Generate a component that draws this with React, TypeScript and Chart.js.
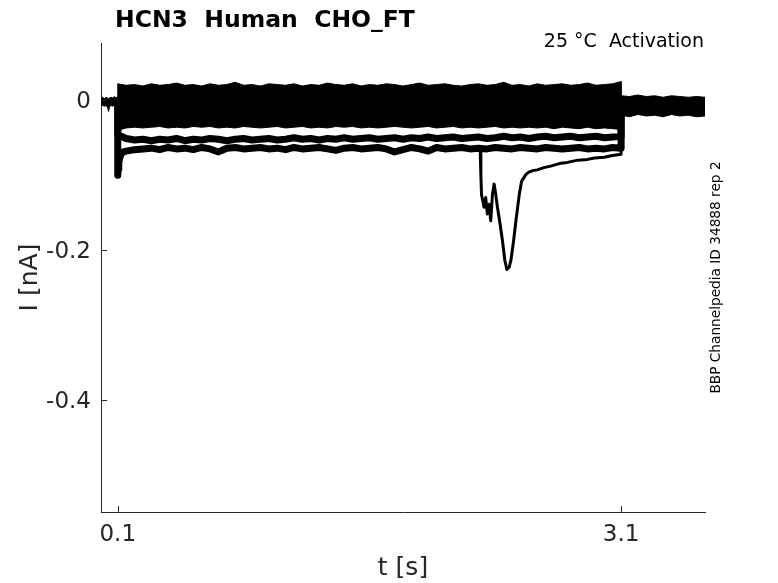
import React, { useEffect, useRef } from 'react';
import { Chart, registerables } from 'chart.js';

Chart.register(...registerables);

// ---- texts ----
const titleText = 'HCN3  Human  CHO_FT';
const conditionText = '25 °C  Activation';
const sideText = 'BBP Channelpedia ID 34888 rep 2';
const xTitle = 't [s]';
const yTitle = 'I [nA]';

// ---- ticks ----
const xTickValues = [0.1, 3.1];
const xTickLabels = ['0.1', '3.1'];
const yTickValues = [-0.4, -0.2, 0];
const yTickLabels = ['-0.4', '-0.2', '0'];

// ---- holding period before the step (s, nA) ----
const preTime = [0, 0.01, 0.02, 0.03, 0.04, 0.045, 0.05, 0.06, 0.07, 0.08, 0.09, 0.1];
const preUpper = [0.003, 0.004, 0.002, 0.004, 0.003, 0.002, 0.003, 0.004, 0.003, 0.005, 0.003, 0.004];
const preLower = [-0.006, -0.007, -0.008, -0.007, -0.010, -0.015, -0.009, -0.007, -0.008, -0.006, -0.007, -0.008];

// ---- step period ----
const pulseTime = [
  0.1, 0.15, 0.2, 0.25, 0.3, 0.35, 0.4, 0.45, 0.5, 0.55,
  0.6, 0.65, 0.7, 0.75, 0.8, 0.85, 0.9, 0.95, 1.0, 1.05,
  1.1, 1.15, 1.2, 1.25, 1.3, 1.35, 1.4, 1.45, 1.5, 1.55,
  1.6, 1.65, 1.7, 1.75, 1.8, 1.85, 1.9, 1.95, 2.0, 2.05,
  2.1, 2.15, 2.2, 2.25, 2.3, 2.35, 2.4, 2.45, 2.5, 2.55,
  2.6, 2.65, 2.7, 2.75, 2.8, 2.85, 2.9, 2.95, 3.0, 3.05,
  3.1,
];
// envelope of the dense bundle of sweeps
const bandUpper = [
  0.022, 0.020, 0.021, 0.019, 0.022, 0.020, 0.021, 0.023, 0.020, 0.021,
  0.019, 0.022, 0.020, 0.021, 0.024, 0.020, 0.021, 0.019, 0.022, 0.021,
  0.020, 0.022, 0.019, 0.021, 0.020, 0.023, 0.021, 0.020, 0.022, 0.019,
  0.021, 0.020, 0.022, 0.021, 0.019, 0.021, 0.023, 0.020, 0.021, 0.022,
  0.020, 0.019, 0.021, 0.022, 0.020, 0.021, 0.024, 0.020, 0.021, 0.019,
  0.022, 0.020, 0.021, 0.022, 0.020, 0.021, 0.023, 0.020, 0.021, 0.022,
  0.025,
];
const bandLower = [
  -0.040, -0.037, -0.036, -0.037, -0.036, -0.035, -0.037, -0.036, -0.037, -0.035,
  -0.036, -0.035, -0.037, -0.036, -0.037, -0.035, -0.036, -0.037, -0.036, -0.035,
  -0.037, -0.036, -0.035, -0.037, -0.036, -0.037, -0.035, -0.036, -0.035, -0.037,
  -0.036, -0.037, -0.036, -0.035, -0.036, -0.037, -0.036, -0.035, -0.037, -0.036,
  -0.035, -0.037, -0.036, -0.037, -0.036, -0.035, -0.037, -0.036, -0.037, -0.036,
  -0.037, -0.036, -0.038, -0.036, -0.037, -0.038, -0.036, -0.038, -0.037, -0.038,
  -0.039,
];
// sweep just below the bundle
const traceA = [
  -0.046, -0.051, -0.053, -0.052, -0.054, -0.052, -0.053, -0.051, -0.054, -0.052,
  -0.053, -0.051, -0.052, -0.054, -0.052, -0.051, -0.053, -0.052, -0.051, -0.053,
  -0.052, -0.050, -0.052, -0.051, -0.053, -0.051, -0.052, -0.050, -0.052, -0.051,
  -0.050, -0.052, -0.051, -0.050, -0.052, -0.050, -0.051, -0.049, -0.051, -0.050,
  -0.049, -0.051, -0.050, -0.049, -0.051, -0.050, -0.048, -0.050, -0.049, -0.051,
  -0.049, -0.048, -0.050, -0.049, -0.048, -0.050, -0.049, -0.048, -0.050, -0.049,
  -0.048,
];
// lowest steady sweep
const traceB = [
  -0.100, -0.068, -0.066, -0.065, -0.064, -0.066, -0.063, -0.065, -0.064, -0.066,
  -0.063, -0.065, -0.069, -0.064, -0.063, -0.065, -0.064, -0.063, -0.065, -0.064,
  -0.066, -0.063, -0.065, -0.064, -0.063, -0.065, -0.067, -0.064, -0.063, -0.065,
  -0.064, -0.063, -0.065, -0.069, -0.066, -0.063, -0.065, -0.068, -0.063, -0.065,
  -0.064, -0.063, -0.065, -0.064, -0.065, -0.063, -0.064, -0.065, -0.063, -0.064,
  -0.065, -0.063, -0.064, -0.065, -0.064, -0.063, -0.065, -0.064, -0.065, -0.063,
  -0.064,
];
const onsetTime = [0.102, 0.106, 0.112, 0.12, 0.135];
const onsetB = [-0.092, -0.083, -0.077, -0.072, -0.069];

// sweep with the large transient inward current
const dropTime = [
  2.2, 2.26, 2.264, 2.268, 2.275, 2.283, 2.293, 2.303, 2.313, 2.323,
  2.333, 2.343, 2.353, 2.363, 2.379, 2.393, 2.407, 2.419, 2.433, 2.443,
  2.459, 2.473, 2.493, 2.507, 2.533, 2.55, 2.573, 2.6, 2.64, 2.68,
  2.742, 2.78, 2.842, 2.9, 2.941, 3.0, 3.04, 3.07, 3.1,
];
const dropValues = [
  -0.064, -0.066, -0.099, -0.126, -0.134, -0.143, -0.130, -0.152, -0.139, -0.161,
  -0.126, -0.112, -0.126, -0.143, -0.166, -0.188, -0.214, -0.226, -0.223, -0.214,
  -0.188, -0.161, -0.126, -0.108, -0.099, -0.096, -0.094, -0.093, -0.090, -0.088,
  -0.084, -0.083, -0.080, -0.079, -0.077, -0.076, -0.074, -0.073, -0.072,
];

// ---- tail after the step ----
const postTime = [3.1, 3.15, 3.2, 3.25, 3.3, 3.35, 3.4, 3.45, 3.5, 3.55, 3.6];
const postUpper = [0.006, 0.005, 0.007, 0.005, 0.006, 0.004, 0.006, 0.005, 0.004, 0.005, 0.004];
const postLower = [-0.020, -0.022, -0.019, -0.021, -0.020, -0.022, -0.019, -0.021, -0.020, -0.022, -0.021];

// levels each single sweep steps from / returns to (A, B, drop)
const holdLevels = [0.0, 0.0];
const tailLevels = [-0.010, -0.014, -0.012];

const FONT = 'DejaVu Sans';
const AXIS_COLOR = '#262626';

const pts = (t: number[], v: number[]) => t.map((x, i) => ({ x, y: v[i] }));

export default function App() {
  const ref = useRef<HTMLCanvasElement | null>(null);

  useEffect(() => {
    if (!ref.current) return;

    const upperPts = [...pts(preTime, preUpper), ...pts(pulseTime, bandUpper), ...pts(postTime, postUpper)];
    const lowerPts = [...pts(preTime, preLower), ...pts(pulseTime, bandLower), ...pts(postTime, postLower)];
    const bandPts = [...upperPts, ...lowerPts.slice().reverse()];

    const aPts = [{ x: 0.1, y: holdLevels[0] }, ...pts(pulseTime, traceA), { x: 3.1, y: tailLevels[0] }];
    const bPts = [
      { x: 0.1, y: holdLevels[1] },
      { x: pulseTime[0], y: traceB[0] },
      ...pts(onsetTime, onsetB),
      ...pts(pulseTime.slice(1), traceB.slice(1)),
      { x: 3.1, y: tailLevels[1] },
    ];
    const cPts = [...pts(dropTime, dropValues), { x: 3.1, y: tailLevels[2] }];

    const tickMarks = {
      id: 'tickMarks',
      afterDraw(chart: any) {
        const { ctx, chartArea, scales } = chart;
        ctx.save();
        ctx.strokeStyle = AXIS_COLOR;
        ctx.lineWidth = 1;
        ctx.beginPath();
        xTickValues.forEach((v) => {
          const px = Math.round(scales.x.getPixelForValue(v)) + 0.5;
          ctx.moveTo(px, chartArea.bottom);
          ctx.lineTo(px, chartArea.bottom - 6);
        });
        yTickValues.forEach((v) => {
          const py = Math.round(scales.y.getPixelForValue(v)) + 0.5;
          ctx.moveTo(chartArea.left, py);
          ctx.lineTo(chartArea.left + 6, py);
        });
        ctx.stroke();
        ctx.restore();
      },
    };

    const labels = {
      id: 'labels',
      afterDraw(chart: any) {
        const { ctx, chartArea } = chart;
        ctx.save();
        ctx.fillStyle = '#000';
        ctx.textBaseline = 'alphabetic';
        ctx.textAlign = 'left';
        ctx.font = `bold 23.5px "${FONT}"`;
        ctx.fillText(titleText, 115, 27);
        ctx.textAlign = 'right';
        ctx.font = `19px "${FONT}"`;
        ctx.fillText(conditionText, chartArea.right - 1, 47);
        ctx.translate(716, (chartArea.top + chartArea.bottom) / 2);
        ctx.rotate(-Math.PI / 2);
        ctx.textAlign = 'center';
        ctx.textBaseline = 'middle';
        ctx.font = `13.7px "${FONT}"`;
        ctx.fillText(sideText, 0, 0);
        ctx.restore();
      },
    };

    const chart = new Chart(ref.current, {
      type: 'line',
      data: {
        datasets: [
          {
            data: bandPts,
            borderColor: '#000',
            backgroundColor: '#000',
            borderWidth: 1,
            pointRadius: 0,
            fill: 'shape',
            tension: 0,
          },
          {
            data: aPts,
            borderColor: '#000',
            borderWidth: 7,
            borderJoinStyle: 'round',
            pointRadius: 0,
            fill: false,
            tension: 0,
          },
          {
            data: bPts,
            borderColor: '#000',
            borderWidth: 7,
            borderJoinStyle: 'round',
            pointRadius: 0,
            fill: false,
            tension: 0,
          },
          {
            data: cPts,
            borderColor: '#000',
            borderWidth: 3,
            borderJoinStyle: 'round',
            pointRadius: 0,
            fill: false,
            tension: 0,
          },
        ],
      },
      options: {
        animation: false,
        responsive: false,
        devicePixelRatio: 1,
        layout: { padding: { left: 0, top: 43, right: 73, bottom: 0 } },
        plugins: {
          legend: { display: false },
          tooltip: { enabled: false },
          title: { display: false },
        },
        scales: {
          x: {
            type: 'linear',
            position: 'bottom',
            min: 0,
            max: 3.6,
            grid: { display: false, drawTicks: false },
            border: { display: true, color: AXIS_COLOR, width: 1 },
            afterBuildTicks: (s: any) => {
              s.ticks = xTickValues.map((value) => ({ value }));
            },
            afterFit: (s: any) => {
              s.height = 71;
            },
            ticks: {
              autoSkip: false,
              maxRotation: 0,
              padding: 9,
              color: AXIS_COLOR,
              font: { family: FONT, size: 23 },
              callback: (_v: any, i: number) => xTickLabels[i],
            },
            title: {
              display: true,
              text: xTitle,
              color: AXIS_COLOR,
              font: { family: FONT, size: 25 },
              padding: { top: 0, bottom: 0 },
            },
          },
          y: {
            type: 'linear',
            position: 'left',
            min: -0.55,
            max: 0.0765,
            grid: { display: false, drawTicks: false },
            border: { display: true, color: AXIS_COLOR, width: 1 },
            afterBuildTicks: (s: any) => {
              s.ticks = yTickValues.map((value) => ({ value }));
            },
            afterFit: (s: any) => {
              s.width = 101;
            },
            ticks: {
              autoSkip: false,
              padding: 10,
              labelOffset: 2,
              color: AXIS_COLOR,
              font: { family: FONT, size: 23 },
              callback: (_v: any, i: number) => yTickLabels[i],
            },
            title: {
              display: true,
              text: yTitle,
              color: AXIS_COLOR,
              font: { family: FONT, size: 25 },
              padding: { top: 15, bottom: 0 },
            },
          },
        },
      },
      plugins: [tickMarks, labels],
    } as any);

    return () => chart.destroy();
  }, []);

  return (
    <div style={{ position: 'fixed', left: 0, top: 0, width: 778, height: 583, background: '#fff' }}>
      <canvas ref={ref} width={778} height={583} style={{ width: 778, height: 583 }} />
    </div>
  );
}
